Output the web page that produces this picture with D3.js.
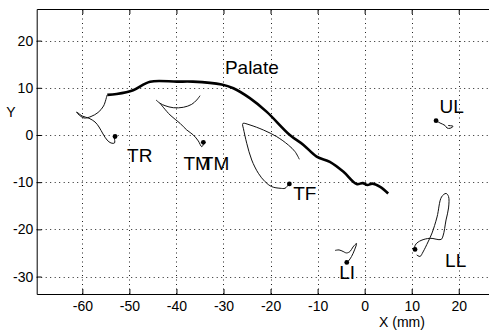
<!DOCTYPE html>
<html>
<head>
<meta charset="utf-8">
<script src="https://cdn.jsdelivr.net/npm/d3@7"></script>
<style>
  html, body { margin: 0; padding: 0; background: #fff; }
  svg { display: block; font-family: Arial, "Liberation Sans", sans-serif; }
</style>
</head>
<body>
<div id="chart"></div>
<script>
const [WIDTH, HEIGHT] = [489, 332];

const xTicks = [-60, -50, -40, -30, -20, -10, 0, 10, 20];
const yTicks = [-30, -20, -10, 0, 10, 20];

// palate contour (mm)
const palateX = [-54.7, -52.7, -49.2, -45.6, -39.9, -36.5, -30.4, -27.9, -24.4, -20.8, -15.9, -13.0, -10.2, -7.4, -4.5, -1.7, -0.4, 0.6, 1.6, 3.3, 5.0];
const palateY = [8.5, 8.7, 9.5, 11.3, 11.3, 11.3, 10.7, 9.9, 7.8, 4.9, 0.0, -2.1, -4.6, -5.7, -7.8, -10.4, -10.2, -10.6, -10.3, -11.0, -12.4];

// sensor tracks (mm), last point = marked end
const trX = [-54.75, -55.49, -56.66, -58.15, -59.64, -60.91, -61.23, -60.91, -60.06, -58.58, -57.30, -56.45, -55.60, -54.75, -53.90, -53.16, -53.16, -53.05];
const trY = [8.47, 6.14, 4.77, 3.92, 3.60, 4.45, 4.87, 4.66, 4.03, 3.54, 2.75, 1.69, 0.21, -1.06, -1.69, -1.69, -0.64, -0.32];

const tmArcX = [-44.34, -43.49, -42.42, -40.66, -38.53, -36.75, -35.69, -34.98];
const tmArcY = [7.42, 6.72, 6.21, 5.78, 5.87, 6.50, 7.42, 8.33];

const tmX = [-43.49, -41.36, -39.24, -37.81, -36.41, -35.35, -34.62, -34.28, -34.28];
const tmY = [6.72, 4.24, 2.48, 1.06, 0.0, -1.27, -2.48, -1.97, -1.55];

const tfX = [-13.88, -14.79, -16.22, -18.68, -21.53, -24.36, -25.84, -25.95, -25.78, -25.06, -24.0, -22.59, -21.17, -19.74, -17.98, -16.92, -16.22, -16.0];
const tfY = [-5.15, -3.54, -2.12, -0.36, 1.06, 2.12, 2.48, 2.22, 1.42, -1.76, -5.30, -8.11, -9.89, -10.95, -11.29, -11.29, -10.59, -10.38];

const ulX = [17.73, 18.79, 18.15, 17.51, 17.09, 16.03, 15.18];
const ulY = [2.01, 1.84, 1.42, 1.48, 2.01, 2.54, 3.03];

const liX = [-6.29, -5.44, -4.59, -3.85, -3.10, -2.47, -1.72, -2.15, -2.78, -3.42, -3.80];
const liY = [-24.47, -24.36, -24.68, -25.0, -24.68, -23.73, -22.99, -24.36, -25.74, -26.69, -27.01];

const llX = [11.07, 11.77, 12.41, 13.47, 14.33, 15.39, 16.34, 17.30, 17.83, 17.83, 17.30, 16.66, 16.24, 13.90, 11.99, 10.92, 10.61, 10.71];
const llY = [-25.42, -25.74, -24.79, -22.67, -20.76, -17.37, -13.14, -12.39, -13.03, -15.47, -18.01, -21.40, -22.14, -21.89, -22.35, -23.09, -23.83, -24.26];

const labelText = ['Palate', 'TR', 'TM', 'TM', 'TF', 'UL', 'LI', 'LL'];
const labelX = [-29.7, -50.5, -38.5, -34.6, -15.2, 15.9, -5.4, 17.1];
const labelY = [12.9, -5.7, -7.4, -7.4, -13.8, 4.7, -30.5, -28.0];

const zip = (xs, ys) => xs.map((x, i) => [x, ys[i]]);

const tracks = [
    { pts: zip(trX, trY), mark: true },
    { pts: zip(tmArcX, tmArcY), mark: false },
    { pts: zip(tmX, tmY), mark: true },
    { pts: zip(tfX, tfY), mark: true },
    { pts: zip(ulX, ulY), mark: true },
    { pts: zip(liX, liY), mark: true },
    { pts: zip(llX, llY), mark: true },
];

const plot = { left: 36.7, right: 489.8, top: 9, bottom: 294 };

const x = d3.scaleLinear().domain([-69.7, 26.6]).range([plot.left, plot.right]);
const y = d3.scaleLinear().domain([-33.7, 26.7]).range([plot.bottom, plot.top]);

const svg = d3.select('#chart').append('svg')
    .attr('width', WIDTH)
    .attr('height', HEIGHT)
    .attr('viewBox', `0 0 ${WIDTH} ${HEIGHT}`);

// grid
const grid = svg.append('g')
    .attr('stroke', '#222')
    .attr('stroke-width', 1)
    .attr('stroke-dasharray', '1,3.5');

grid.selectAll('.gx').data(xTicks).enter().append('line')
    .attr('class', 'gx')
    .attr('x1', (d) => Math.round(x(d)) + 0.5)
    .attr('x2', (d) => Math.round(x(d)) + 0.5)
    .attr('y1', plot.bottom)
    .attr('y2', plot.top)

grid.selectAll('.gy').data(yTicks).enter().append('line')
    .attr('class', 'gy')
    .attr('y1', (d) => Math.round(y(d)) + 0.5)
    .attr('y2', (d) => Math.round(y(d)) + 0.5)
    .attr('x1', plot.left)
    .attr('x2', plot.right)

// axes (ticks inward), plain hyphen for minus like the original
const fmt = (d) => String(d);
const xAxis = d3.axisBottom(x).tickValues(xTicks).tickFormat(fmt).tickSizeInner(-5).tickSizeOuter(0).tickPadding(7);
const yAxis = d3.axisLeft(y).tickValues(yTicks).tickFormat(fmt).tickSizeInner(-5).tickSizeOuter(0).tickPadding(3.5);
const xAxisTop = d3.axisTop(x).tickValues(xTicks).tickSizeInner(-5).tickSizeOuter(0).tickFormat('');

function styleAxis(g) {
    g.select('.domain').attr('stroke', '#000').attr('stroke-width', 1);
    g.selectAll('.tick line').attr('stroke', '#000');
    g.selectAll('.tick text').attr('fill', '#000').attr('font-size', 14)
        .attr('font-family', 'Arial, "Liberation Sans", sans-serif');
}

svg.append('g').attr('transform', `translate(0,${plot.bottom})`).call(xAxis).call(styleAxis);
svg.append('g').attr('transform', `translate(${plot.left},0)`).call(yAxis).call(styleAxis);
svg.append('g').attr('transform', `translate(0,${plot.top})`).call(xAxisTop).call(styleAxis);

const line = d3.line().x((d) => x(d[0])).y((d) => y(d[1])).curve(d3.curveCatmullRom.alpha(0.5));

// palate
svg.append('path')
    .datum(zip(palateX, palateY))
    .attr('d', line)
    .attr('fill', 'none')
    .attr('stroke', '#000')
    .attr('stroke-width', 2.6)
    .attr('stroke-linejoin', 'round');

// tracks
const tg = svg.selectAll('.track').data(tracks).enter().append('g').attr('class', 'track');
tg.append('path')
    .attr('d', (d) => line(d.pts))
    .attr('fill', 'none')
    .attr('stroke', '#111')
    .attr('stroke-width', 1);
tg.filter((d) => d.mark).append('circle')
    .attr('cx', (d) => x(d.pts[d.pts.length - 1][0]))
    .attr('cy', (d) => y(d.pts[d.pts.length - 1][1]))
    .attr('r', 2.4)
    .attr('fill', '#000');

// labels
svg.selectAll('.lbl').data(labelText).enter().append('text')
    .attr('class', 'lbl')
    .attr('x', (d, i) => x(labelX[i]))
    .attr('y', (d, i) => y(labelY[i]))
    .attr('font-size', 19)
    .attr('fill', '#000')
    .text((d) => d);

// axis titles
svg.append('text')
    .attr('x', 402).attr('y', 327)
    .attr('text-anchor', 'middle')
    .attr('font-size', 14)
    .text('X (mm)');

svg.append('text')
    .attr('x', 11).attr('y', 117)
    .attr('text-anchor', 'middle')
    .attr('font-size', 14)
    .text('Y');
</script>
</body>
</html>
